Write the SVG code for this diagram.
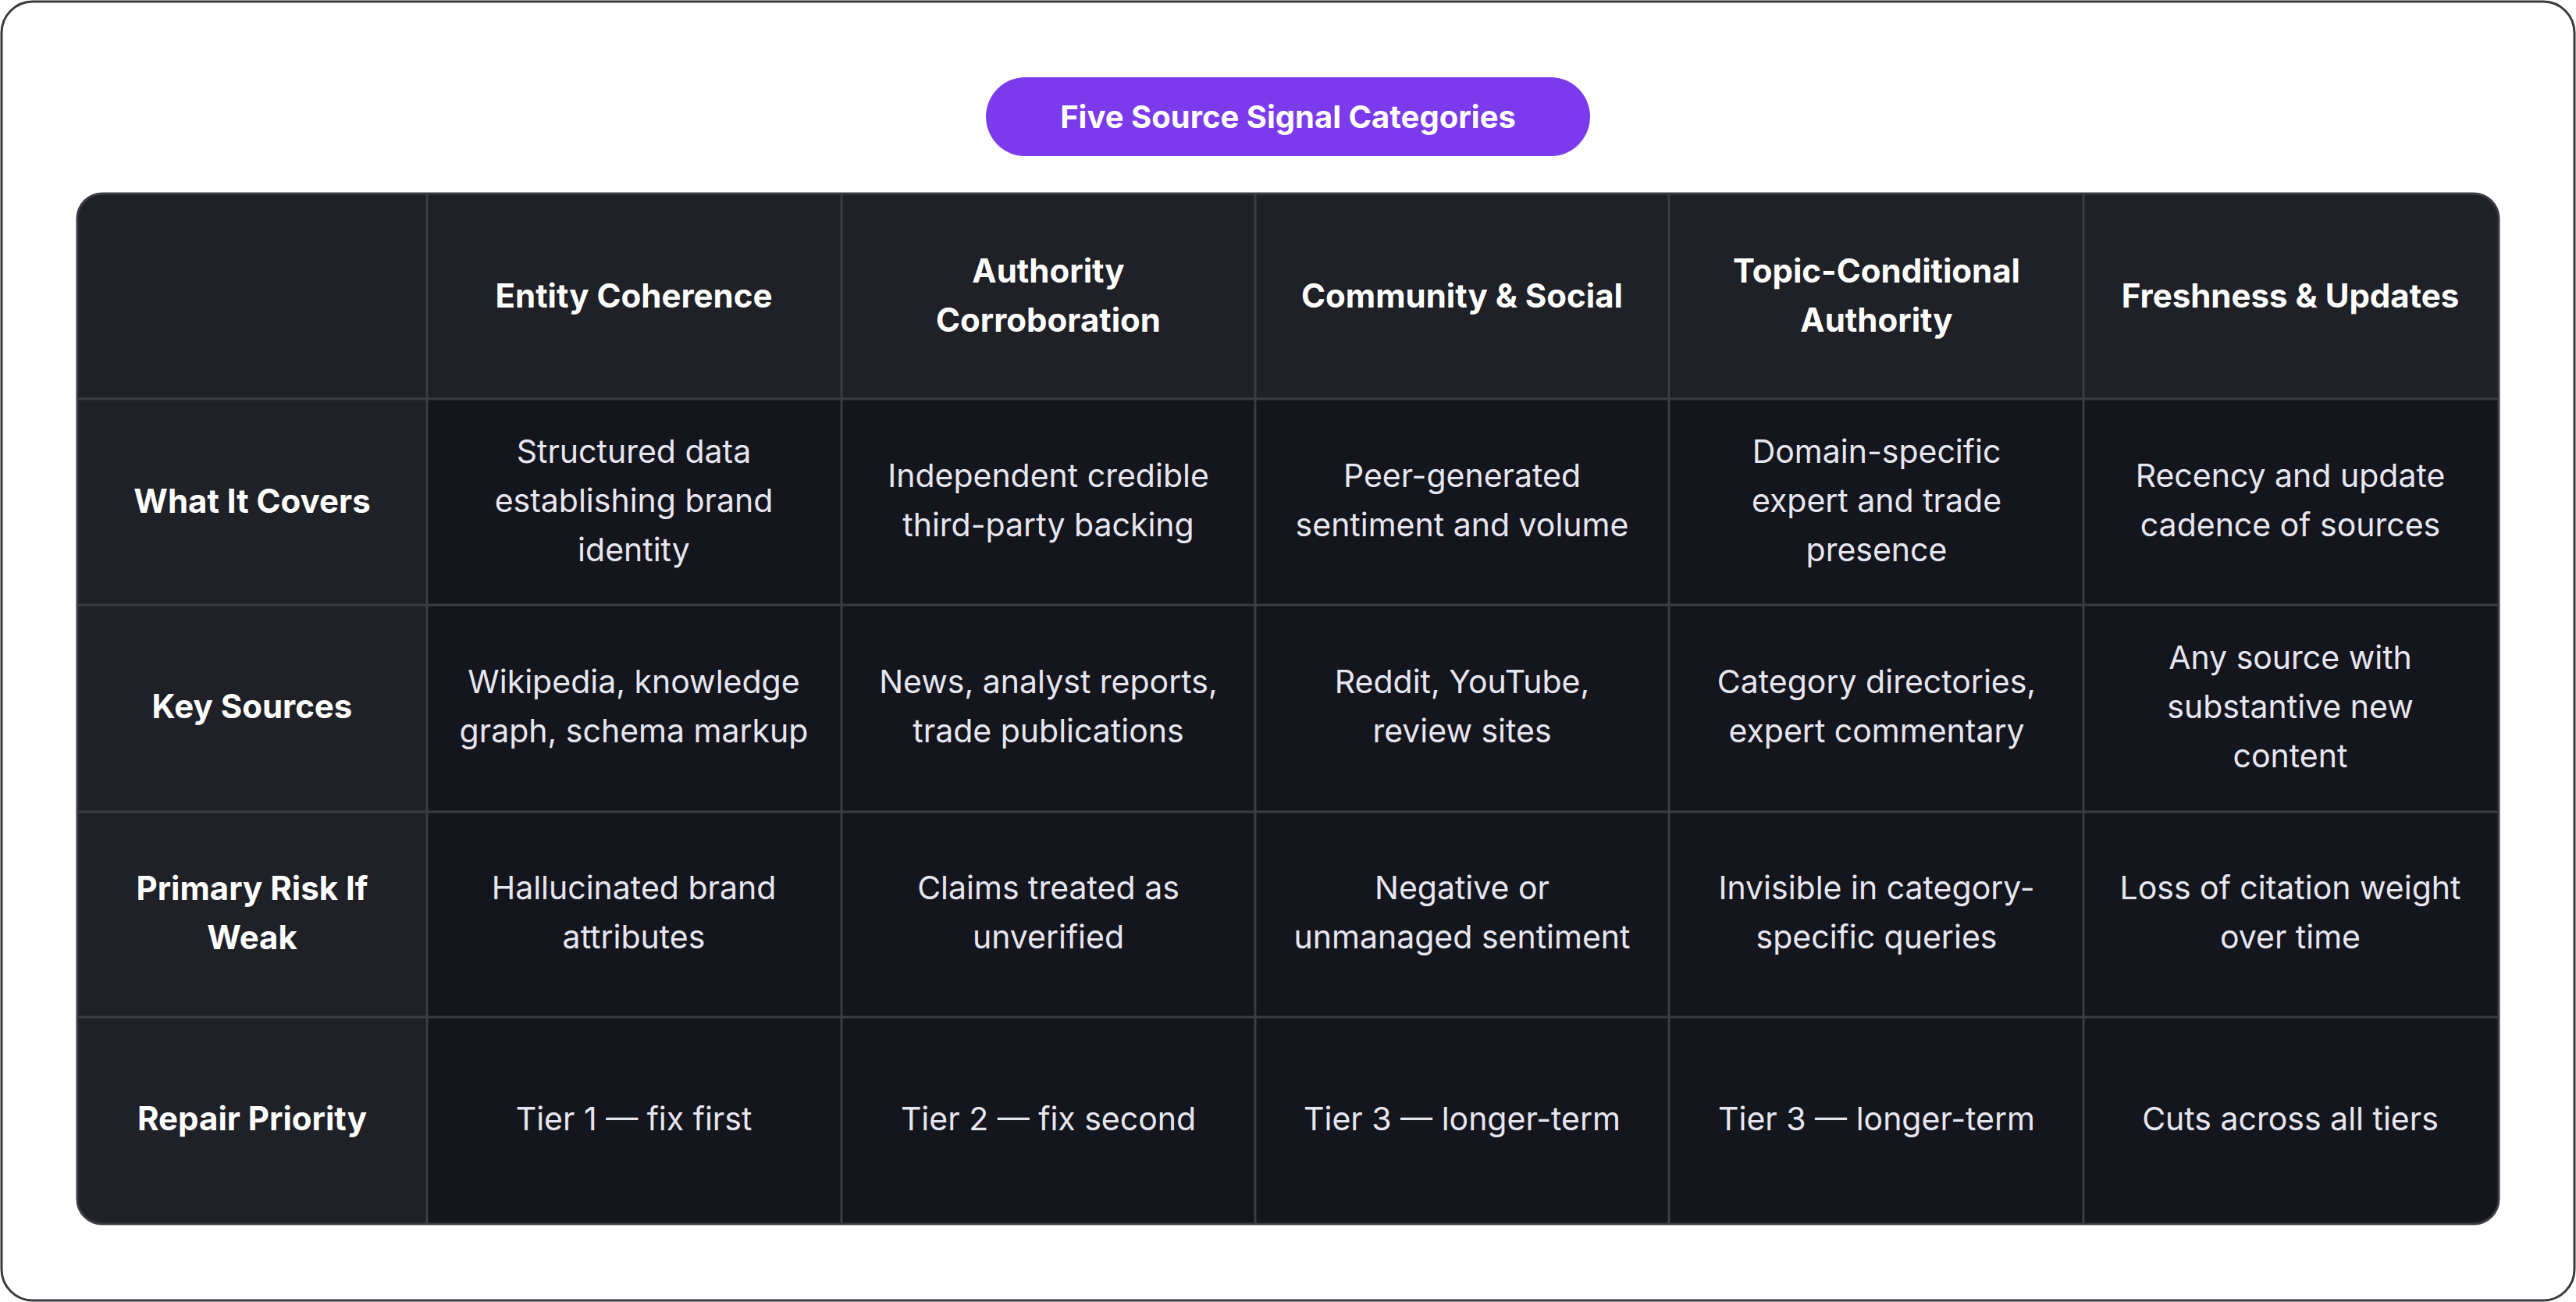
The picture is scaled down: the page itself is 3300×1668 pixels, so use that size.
<svg xmlns="http://www.w3.org/2000/svg" width="3300" height="1668" viewBox="0 0 3300 1668">
<style>
.t{font-family:Inter,"Noto Sans",sans-serif;text-anchor:middle}
.h{font-size:42px;font-weight:700;fill:#ffffff}
.b{font-size:41px;font-weight:400;fill:#e6e6f0}
.ln{stroke:#3b3c44;stroke-width:3}
</style>
<rect x="2" y="2" width="3296" height="1664" rx="40" fill="#ffffff" stroke="#3a3a40" stroke-width="3"/>
<g id="title">
<rect x="1263" y="99" width="774" height="101" rx="50.5" fill="#7c3aed"/>
<text class="t" x="1650" y="164" font-size="40" font-weight="700" fill="#ffffff">Five Source Signal Categories</text>
</g>
<defs><clipPath id="c"><rect x="99" y="248" width="3102" height="1320" rx="32"/></clipPath></defs>
<g id="table">
<g clip-path="url(#c)">
<rect x="99" y="248" width="3102" height="1320" fill="#15151d"/>
<rect x="99" y="248" width="3102" height="263" fill="#202127"/>
<rect x="99" y="248" width="448" height="1320" fill="#202127"/>
</g>
<rect x="99" y="248" width="3102" height="1320" rx="32" fill="none" stroke="#3b3c44" stroke-width="3"/>
</g>
<g id="connectors">
<line class="ln" x1="547" y1="248" x2="547" y2="1568"/>
<line class="ln" x1="1078" y1="248" x2="1078" y2="1568"/>
<line class="ln" x1="1608" y1="248" x2="1608" y2="1568"/>
<line class="ln" x1="2138" y1="248" x2="2138" y2="1568"/>
<line class="ln" x1="2669" y1="248" x2="2669" y2="1568"/>
<line class="ln" x1="99" y1="511" x2="3201" y2="511"/>
<line class="ln" x1="99" y1="775" x2="3201" y2="775"/>
<line class="ln" x1="99" y1="1040" x2="3201" y2="1040"/>
<line class="ln" x1="99" y1="1303" x2="3201" y2="1303"/>
</g>
<g id="header">
<text class="t h" x="812" y="394">Entity Coherence</text>
<text class="t h" x="1343" y="362">Authority</text><text class="t h" x="1343" y="425">Corroboration</text>
<text class="t h" x="1873" y="394">Community &amp; Social</text>
<text class="t h" x="2404" y="362">Topic-Conditional</text><text class="t h" x="2404" y="425">Authority</text>
<text class="t h" x="2934" y="394">Freshness &amp; Updates</text>
</g>
<g id="row-labels">
<text class="t h" x="323" y="657">What It Covers</text>
<text class="t h" x="323" y="920">Key Sources</text>
<text class="t h" x="323" y="1153">Primary Risk If</text><text class="t h" x="323" y="1216">Weak</text>
<text class="t h" x="323" y="1448">Repair Priority</text>
</g>
<g id="row1">
<text class="t b" x="812" y="593">Structured data</text><text class="t b" x="812" y="656">establishing brand</text><text class="t b" x="812" y="719">identity</text>
<text class="t b" x="1343" y="624">Independent credible</text><text class="t b" x="1343" y="687">third-party backing</text>
<text class="t b" x="1873" y="624">Peer-generated</text><text class="t b" x="1873" y="687">sentiment and volume</text>
<text class="t b" x="2404" y="593">Domain-specific</text><text class="t b" x="2404" y="656">expert and trade</text><text class="t b" x="2404" y="719">presence</text>
<text class="t b" x="2934" y="624">Recency and update</text><text class="t b" x="2934" y="687">cadence of sources</text>
</g>
<g id="row2">
<text class="t b" x="812" y="888">Wikipedia, knowledge</text><text class="t b" x="812" y="951">graph, schema markup</text>
<text class="t b" x="1343" y="888">News, analyst reports,</text><text class="t b" x="1343" y="951">trade publications</text>
<text class="t b" x="1873" y="888">Reddit, YouTube,</text><text class="t b" x="1873" y="951">review sites</text>
<text class="t b" x="2404" y="888">Category directories,</text><text class="t b" x="2404" y="951">expert commentary</text>
<text class="t b" x="2934" y="857">Any source with</text><text class="t b" x="2934" y="920">substantive new</text><text class="t b" x="2934" y="983">content</text>
</g>
<g id="row3">
<text class="t b" x="812" y="1152">Hallucinated brand</text><text class="t b" x="812" y="1215">attributes</text>
<text class="t b" x="1343" y="1152">Claims treated as</text><text class="t b" x="1343" y="1215">unverified</text>
<text class="t b" x="1873" y="1152">Negative or</text><text class="t b" x="1873" y="1215">unmanaged sentiment</text>
<text class="t b" x="2404" y="1152">Invisible in category-</text><text class="t b" x="2404" y="1215">specific queries</text>
<text class="t b" x="2934" y="1152">Loss of citation weight</text><text class="t b" x="2934" y="1215">over time</text>
</g>
<g id="row4">
<text class="t b" x="812" y="1448">Tier 1 — fix first</text>
<text class="t b" x="1343" y="1448">Tier 2 — fix second</text>
<text class="t b" x="1873" y="1448">Tier 3 — longer-term</text>
<text class="t b" x="2404" y="1448">Tier 3 — longer-term</text>
<text class="t b" x="2934" y="1448">Cuts across all tiers</text>
</g>
</svg>
